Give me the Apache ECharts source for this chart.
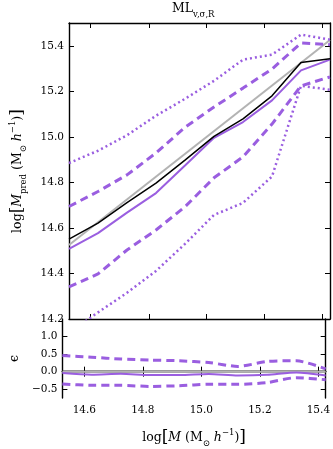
<!DOCTYPE html>
<html>
<head>
<meta charset="utf-8">
<script src="https://cdn.jsdelivr.net/npm/echarts@6/dist/echarts.min.js"></script>
<style>
html,body{margin:0;padding:0;background:#fff;}
#chart{width:333px;height:449px;}
</style>
</head>
<body>
<div id="chart"></div>
<script>
// ---- data ----
var xVals = [14.525, 14.625, 14.725, 14.825, 14.925, 15.025, 15.125, 15.225, 15.325, 15.425];
var blackMed = [14.551, 14.621, 14.711, 14.797, 14.898, 15.002, 15.079, 15.180, 15.327, 15.343];
var purpleMed = [14.508, 14.577, 14.667, 14.753, 14.874, 14.996, 15.065, 15.160, 15.292, 15.339];
var upperDash = [14.694, 14.760, 14.833, 14.929, 15.042, 15.131, 15.214, 15.298, 15.412, 15.405];
var lowerDash = [14.341, 14.398, 14.503, 14.591, 14.693, 14.820, 14.912, 15.056, 15.224, 15.263];
var upperDot = [14.885, 14.939, 15.007, 15.093, 15.167, 15.246, 15.339, 15.361, 15.449, 15.427];
var lowerDot = [14.140, 14.229, 14.315, 14.411, 14.530, 14.657, 14.710, 14.826, 15.224, 15.207];
var resMid = [-0.04, -0.085, -0.06, -0.095, -0.095, -0.065, -0.11, -0.09, -0.025, -0.11];
var resUp = [0.46, 0.41, 0.36, 0.33, 0.31, 0.26, 0.15, 0.29, 0.31, 0.08];
var resLo = [-0.35, -0.39, -0.39, -0.42, -0.40, -0.36, -0.36, -0.31, -0.17, -0.23];
var xTicks = [14.6, 14.8, 15.0, 15.2, 15.4];
var yTicksMain = [14.2, 14.4, 14.6, 14.8, 15.0, 15.2, 15.4];
var yTicksRes = [-0.5, 0.0, 0.5, 1.0];

var xMin = 14.525, xMax = 15.425;
var PURPLE = '#9a5ee0';
var GRAY = '#b3b3b3';
var FONT = 'DejaVu Serif';

function pairs(ys) { return xVals.map(function (x, i) { return [x, ys[i]]; }); }
function fmt(v) { return v.toFixed(1).replace('-', '\u2212'); }

var axisLine = { show: true, lineStyle: { color: '#000', width: 1.4 } };
var richName = {
  n: { fontFamily: FONT, fontSize: 12.5, color: '#000' },
  br: { fontFamily: FONT, fontSize: 17, color: '#000' },
  i: { fontFamily: FONT, fontSize: 12.5, fontStyle: 'italic', color: '#000' },
  sub: { fontFamily: FONT, fontSize: 8.5, color: '#000', verticalAlign: 'bottom', lineHeight: 20 },
  sup: { fontFamily: FONT, fontSize: 8.5, color: '#000', verticalAlign: 'top', lineHeight: 20 }
};
function xAx(grid, pos, labels, name) {
  return {
    type: 'value', gridIndex: grid, position: pos, min: xMin, max: xMax,
    axisLine: axisLine,
    axisTick: { show: true, inside: true, length: 5, lineStyle: { color: '#000', width: 1 }, customValues: xTicks },
    axisLabel: { show: labels, customValues: xTicks, formatter: fmt, color: '#000', fontFamily: FONT, fontSize: 10.5, margin: 7 },
    splitLine: { show: false },
    name: name || '', nameLocation: 'middle', nameGap: 30,
    nameTextStyle: { color: '#000', fontFamily: FONT, fontSize: 12.5, rich: richName }
  };
}
function yAx(grid, pos, labels, min, max, ticks, name, gap) {
  return {
    type: 'value', gridIndex: grid, position: pos, min: min, max: max,
    axisLine: axisLine,
    axisTick: { show: true, inside: true, length: 5, lineStyle: { color: '#000', width: 1 }, customValues: ticks },
    axisLabel: { show: labels, customValues: ticks, formatter: fmt, color: '#000', fontFamily: FONT, fontSize: 10.5, margin: 5 },
    splitLine: { show: false },
    name: name || '', nameLocation: 'middle', nameGap: gap || 40, nameRotate: 90,
    nameTextStyle: { color: '#000', fontFamily: FONT, fontSize: 12.5, rich: richName }
  };
}

function line(name, ys, xi, yi, color, width, type, z, smooth) {
  return {
    name: name, type: 'line', xAxisIndex: xi, yAxisIndex: yi, data: pairs(ys),
    showSymbol: false, symbol: 'none', smooth: smooth || false, z: z,
    lineStyle: { color: color, width: width, type: type, cap: 'butt' }, silent: true, clip: true
  };
}

var option = {
  animation: false,
  backgroundColor: '#fff',
  grid: [
    { left: 60, top: 23, width: 270, height: 296 },
    { left: 60, top: 319, width: 270, height: 89 }
  ],
  xAxis: [
    xAx(0, 'bottom', false),
    xAx(0, 'top', false),
    xAx(1, 'bottom', true, 'log{br|[}{i|M} (M{sub|\u2299} {i|h}{sup|\u22121}){br|]}'),
    xAx(1, 'top', false)
  ],
  yAxis: [
    yAx(0, 'left', true, 14.2, 15.5, yTicksMain, 'log{br|[}{i|M}{sub|pred} (M{sub|\u2299} {i|h}{sup|\u22121}){br|]}', 41),
    yAx(0, 'right', false, 14.2, 15.5, yTicksMain),
    yAx(1, 'left', true, -0.75, 1.5, yTicksRes, '\u03f5', 41),
    yAx(1, 'right', false, -0.75, 1.5, yTicksRes)
  ],
  graphic: [{
    type: 'text', left: 172, top: 2,
    style: {
      text: '{a|ML}{b|v,\u03c3,R}',
      rich: {
        a: { fontFamily: FONT, fontSize: 12.5, fill: '#000', verticalAlign: 'top', lineHeight: 14 },
        b: { fontFamily: FONT, fontSize: 8.5, fill: '#000', verticalAlign: 'bottom', lineHeight: 17 }
      }
    }
  }],
  series: [
    { type: 'line', xAxisIndex: 0, yAxisIndex: 0, data: [[xMin, xMin], [xMax, xMax]], showSymbol: false, symbol: 'none', z: 1,
      lineStyle: { color: GRAY, width: 2 }, silent: true },
    line('upperDot', upperDot, 0, 0, PURPLE, 2.5, [2, 3], 2),
    line('lowerDot', lowerDot, 0, 0, PURPLE, 2.5, [2, 3], 2),
    line('upperDash', upperDash, 0, 0, PURPLE, 3, [8, 5], 3),
    line('lowerDash', lowerDash, 0, 0, PURPLE, 3, [8, 5], 3),
    line('purpleMed', purpleMed, 0, 0, PURPLE, 2, 'solid', 4),
    line('blackMed', blackMed, 0, 0, '#000', 1.5, 'solid', 5),
    { type: 'line', xAxisIndex: 2, yAxisIndex: 2, data: [[xMin, 0], [xMax, 0]], showSymbol: false, symbol: 'none', z: 1,
      lineStyle: { color: GRAY, width: 2 }, silent: true },
    line('resUp', resUp, 2, 2, PURPLE, 3, [8, 5], 3, 0.25),
    line('resLo', resLo, 2, 2, PURPLE, 3, [8, 5], 3, 0.25),
    line('resMid', resMid, 2, 2, PURPLE, 2, 'solid', 4, 0.25)
  ]
};

var chart = echarts.init(document.getElementById('chart'), null, { renderer: 'canvas' });
chart.setOption(option);
</script>
</body>
</html>
